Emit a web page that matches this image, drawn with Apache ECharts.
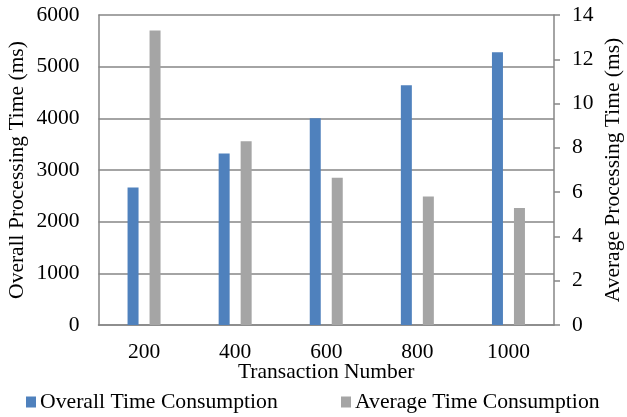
<!DOCTYPE html>
<html>
<head>
<meta charset="utf-8">
<script src="https://cdn.jsdelivr.net/npm/echarts@6/dist/echarts.min.js"></script>
<style>
  html, body { margin: 0; padding: 0; background: #fff; }
  #chart { width: 627px; height: 417px; }
</style>
</head>
<body>
<div id="chart"></div>
<script>
// Transaction counts and measured processing times
const categories = ['200', '400', '600', '800', '1000'];
const overallTime = [2660, 3320, 4000, 4640, 5280];   // ms, left axis
const averageTime = [13.3, 8.3, 6.65, 5.8, 5.28];     // ms, right axis
const leftTicks = { min: 0, max: 6000, interval: 1000 };
const rightTicks = { min: 0, max: 14, interval: 2 };

const FONT = 'Liberation Serif';
const SIZE = 21.5;
const LINE = '#868686';
const plain = v => String(v);

const legendText = { fontFamily: FONT, fontSize: 21.7, color: '#000' };

const chart = echarts.init(document.getElementById('chart'));
chart.setOption({
  animation: false,
  textStyle: { fontFamily: FONT, color: '#000' },
  grid: { left: 98.5, right: 73, top: 15, bottom: 92, outerBoundsMode: 'none', containLabel: false },
  legend: [
    {
      data: ['Overall Time Consumption'],
      left: 21, top: 386,
      itemWidth: 10, itemHeight: 11, itemGap: 4,
      icon: 'rect',
      textStyle: Object.assign({ padding: [0, 0, 0, -1] }, legendText)
    },
    {
      data: ['Average Time Consumption'],
      left: 336, top: 386,
      itemWidth: 10, itemHeight: 11, itemGap: 4,
      icon: 'rect',
      textStyle: Object.assign({ padding: [0, 0, 0, -1] }, legendText)
    }
  ],
  xAxis: {
    type: 'category',
    data: categories,
    name: 'Transaction Number',
    nameLocation: 'middle',
    nameGap: 36,
    nameMoveOverlap: false,
    nameTextStyle: { fontFamily: FONT, fontSize: SIZE, color: '#000' },
    axisLine: { lineStyle: { color: LINE, width: 1.5 } },
    axisTick: { show: false },
    axisLabel: { fontFamily: FONT, fontSize: SIZE, color: '#000', margin: 16 }
  },
  yAxis: [
    {
      type: 'value',
      min: leftTicks.min, max: leftTicks.max, interval: leftTicks.interval,
      name: 'Overall Processing Time (ms)',
      nameLocation: 'middle',
      nameGap: 70,
      nameMoveOverlap: false,
      nameTextStyle: { fontFamily: FONT, fontSize: SIZE, color: '#000' },
      axisLine: { show: true, lineStyle: { color: LINE, width: 1.5 } },
      axisTick: { show: false },
      axisLabel: { fontFamily: FONT, fontSize: SIZE, color: '#000', margin: 19, formatter: plain },
      splitLine: { show: true, lineStyle: { color: LINE, width: 1.5 } }
    },
    {
      type: 'value',
      min: rightTicks.min, max: rightTicks.max, interval: rightTicks.interval,
      name: 'Average Processing Time (ms)',
      nameLocation: 'middle',
      nameGap: 48,
      nameRotate: 90,
      nameMoveOverlap: false,
      nameTextStyle: { fontFamily: FONT, fontSize: SIZE, color: '#000' },
      axisLine: { show: true, lineStyle: { color: LINE, width: 1.5 } },
      axisTick: { show: true, length: 6, lineStyle: { color: LINE, width: 1.5 } },
      axisLabel: { fontFamily: FONT, fontSize: SIZE, color: '#000', margin: 18, formatter: plain },
      splitLine: { show: false }
    }
  ],
  series: [
    {
      name: 'Overall Time Consumption',
      type: 'bar',
      yAxisIndex: 0,
      data: overallTime,
      barWidth: 11,
      barGap: '100%',
      itemStyle: { color: '#4F81BD' }
    },
    {
      name: 'Average Time Consumption',
      type: 'bar',
      yAxisIndex: 1,
      data: averageTime,
      barWidth: 11,
      barGap: '100%',
      itemStyle: { color: '#A5A5A5' }
    }
  ]
});
</script>
</body>
</html>
